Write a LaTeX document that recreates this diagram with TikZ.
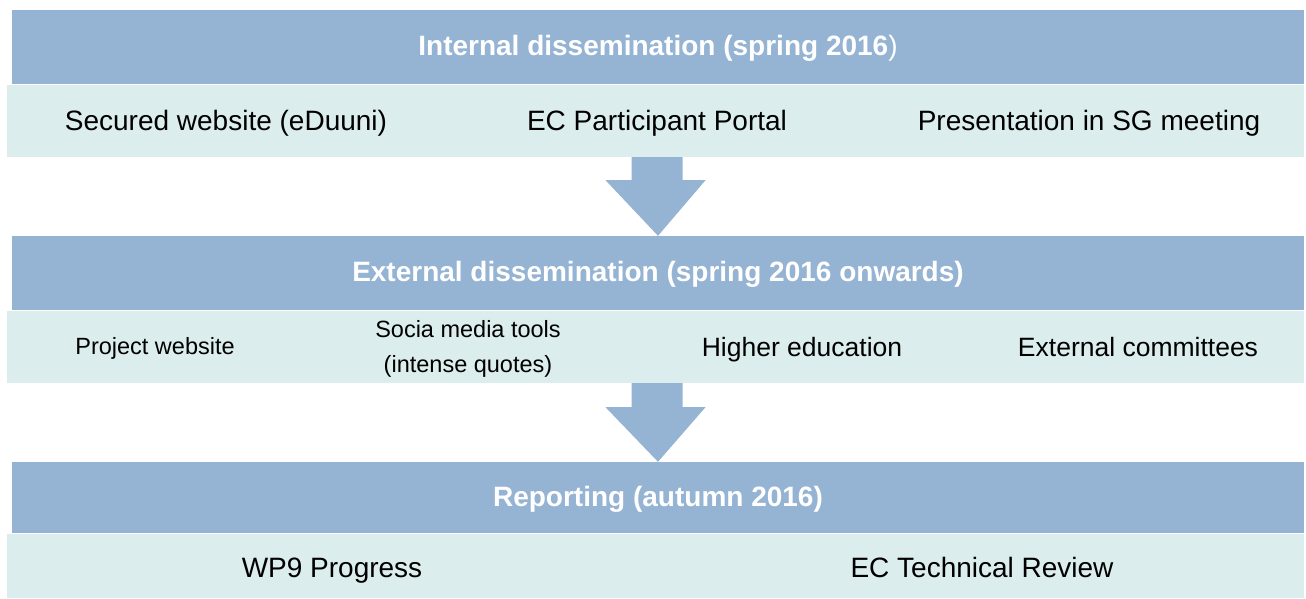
\documentclass[tikz,border=0pt]{standalone}
\usepackage{fontspec}
\setmainfont{Liberation Sans}
\usetikzlibrary{calc}
\definecolor{hdrblue}{RGB}{149,179,211}
\definecolor{lightcyan}{RGB}{220,237,237}
\tikzset{
  hdrbox/.style={fill=hdrblue, draw=none, inner sep=0pt},
  hdrtext/.style={text=white, font=\fontsize{28}{32}\selectfont\bfseries, inner sep=0pt, anchor=base},
  band/.style={fill=lightcyan, draw=none, inner sep=0pt},
  item/.style={text=black, font=\fontsize{28}{32}\selectfont, inner sep=0pt, align=center, anchor=base},
  miditem/.style={text=black, font=\fontsize{26.5}{32}\selectfont, inner sep=0pt, align=center, anchor=base},
  smallitem/.style={text=black, font=\fontsize{23.5}{35}\selectfont, inner sep=0pt, align=center, anchor=base},
  flow/.style={fill=hdrblue, draw=none}
}
\begin{document}
\begin{tikzpicture}[x=1pt,y=-1pt]
\useasboundingbox (0,0) rectangle (1306,598);
% header boxes
\node[hdrbox, minimum width=1292pt, minimum height=74pt] (h1) at (658,47) {};
\node[hdrbox, minimum width=1292pt, minimum height=74pt] (h2) at (658,273) {};
\node[hdrbox, minimum width=1292pt, minimum height=71pt] (h3) at (658,497.5) {};
% header texts
\node[hdrtext] (t1) at (658,55) {Internal dissemination (spring 2016{\mdseries)}};
\node[hdrtext] (t2) at (658,281) {External dissemination (spring 2016 onwards)};
\node[hdrtext] (t3) at (658,506) {Reporting (autumn 2016)};
% bands
\node[band, minimum width=1297pt, minimum height=72pt] (r1) at (655.5,121) {};
\node[band, minimum width=1297pt, minimum height=72pt] (r2) at (655.5,347) {};
\node[band, minimum width=1297pt, minimum height=64pt] (r3) at (655.5,566) {};
% row 1 items
\node[item] (a1) at (226,130) {Secured website (eDuuni)};
\node[item] (a2) at (657,130) {EC Participant Portal};
\node[item] (a3) at (1089,130) {Presentation in SG meeting};
% row 2 items
\node[smallitem] (b1) at (155,354) {Project website};
\node[smallitem] (b2) at (468,372) {Socia media tools\\(intense quotes)};
\node[miditem] (b3) at (802,356) {Higher education};
\node[miditem] (b4) at (1138,356) {External committees};
% row 3 items
\node[item] (c1) at (332,577) {WP9 Progress};
\node[item] (c2) at (982,577) {EC Technical Review};
% block arrows
\fill[flow] ($(r1.south)+(-24,0)$) -- ($(r1.south)+(27,0)$) -- ($(r1.south)+(27,23)$) -- ($(r1.south)+(50,23)$)
  -- (h2.north) -- ($(r1.south)+(-50,23)$) -- ($(r1.south)+(-24,23)$) -- cycle;
\fill[flow] ($(r2.south)+(-24,0)$) -- ($(r2.south)+(27,0)$) -- ($(r2.south)+(27,24)$) -- ($(r2.south)+(50,24)$)
  -- (h3.north) -- ($(r2.south)+(-50,24)$) -- ($(r2.south)+(-24,24)$) -- cycle;
\end{tikzpicture}
\end{document}
